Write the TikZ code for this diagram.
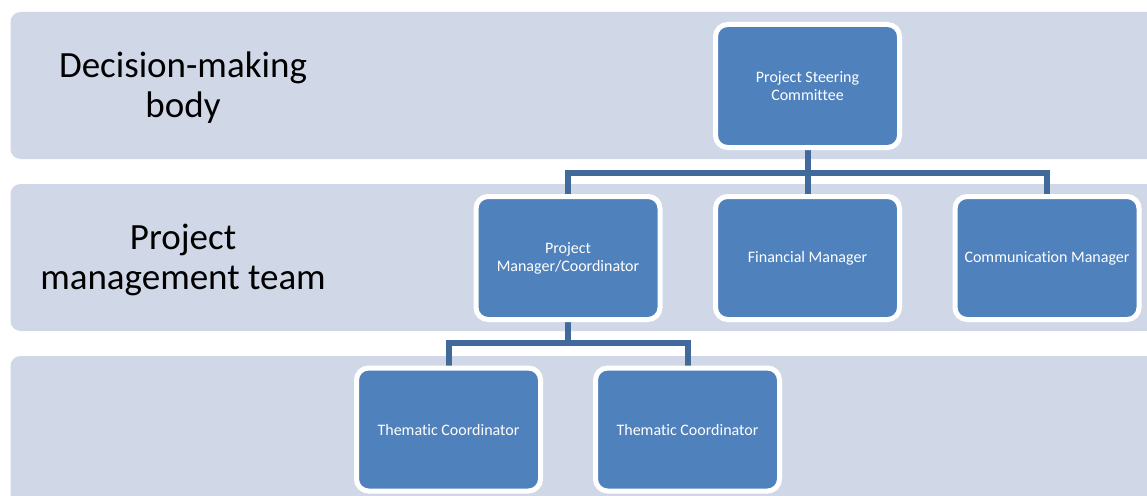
\documentclass[tikz,border=0pt]{standalone}
\usepackage{fontspec}
\setmainfont{Carlito}[Ligatures=NoCommon]
\definecolor{bandc}{HTML}{D0D8E8}
\definecolor{boxc}{HTML}{4F81BD}
\definecolor{connc}{HTML}{41699C}
\begin{document}
\begin{tikzpicture}[x=1pt,y=-1pt,
  band/.style={fill=bandc,draw=none,rounded corners=10pt},
  slot/.style={rectangle,draw=none,fill=none,line width=5pt,
    minimum width=184pt,minimum height=123pt,inner sep=0pt},
  orgbox/.style={rectangle,fill=boxc,draw=white,line width=5pt,rounded corners=12pt,
    minimum width=184pt,minimum height=123pt,inner sep=2pt,align=center,
    text=white,font=\fontsize{16}{18}\selectfont},
  lvl/.style={align=center,font=\fontsize{37}{40}\selectfont,text=black},
  conn/.style={draw=connc,line width=6pt}]
\useasboundingbox (0,0) rectangle (1147,495);
\clip (0,0) rectangle (1147,495);
\fill[white] (0,0) rectangle (1147,495);
\path[band] (10.5,12) rectangle (1170,159);
\path[band] (10.5,184) rectangle (1170,331);
\path[band] (10.5,356) rectangle (1170,520);
\node[lvl] (l1) at (183,88) {Decision-making\\body};
\node[lvl] (l2) at (183,260) {Project\\management team};
% slots for connector routing
\node[slot] (s-psc) at (807.5,86) {};
\node[slot] (s-pm) at (568,258) {};
\node[slot] (s-fm) at (807.5,258) {};
\node[slot] (s-cm) at (1047,258) {};
\node[slot] (s-tc1) at (448.5,429.5) {};
\node[slot] (s-tc2) at (687.5,429.5) {};
\coordinate (bus1) at (807.5,172.5);
\coordinate (bus2) at (568,343);
\draw[conn] (s-psc.south) -- (bus1);
\draw[conn] (s-pm.north) |- (bus1) -| (s-cm.north);
\draw[conn] (bus1) -- (s-fm.north);
\draw[conn] (s-pm.south) -- (bus2);
\draw[conn] (s-tc1.north) |- (bus2) -| (s-tc2.north);
\node[orgbox] (psc) at (s-psc) {Project Steering\\Committee};
\node[orgbox] (pm) at (s-pm) {Project\\Manager/Coordinator};
\node[orgbox] (fm) at (s-fm) {Financial Manager};
\node[orgbox] (cm) at (s-cm) {Communication Manager};
\node[orgbox] (tc1) at (s-tc1) {Thematic Coordinator};
\node[orgbox] (tc2) at (s-tc2) {Thematic Coordinator};
\end{tikzpicture}
\end{document}
